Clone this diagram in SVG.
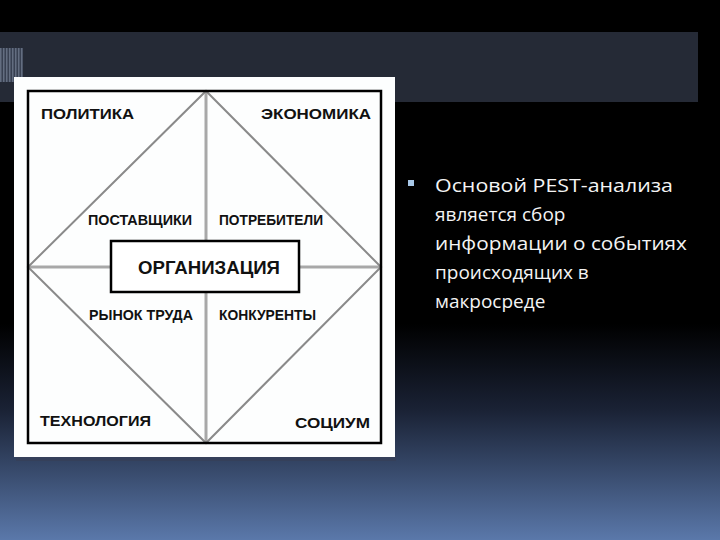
<svg xmlns="http://www.w3.org/2000/svg" width="720" height="540" viewBox="0 0 720 540">
<defs>
<linearGradient id="bg" x1="0" y1="0" x2="0" y2="1">
<stop offset="0" stop-color="#000"/>
<stop offset="0.6" stop-color="#000"/>
<stop offset="0.76" stop-color="#1a2235"/>
<stop offset="1" stop-color="#5a78aa"/>
</linearGradient>
<pattern id="vs" width="3" height="10" patternUnits="userSpaceOnUse">
<rect width="3" height="10" fill="#3a4254"/>
<rect width="1.5" height="10" fill="#6a7488"/>
</pattern>
</defs>
<style>
.lbl{font-family:"Liberation Sans",Arial,sans-serif;font-weight:bold;font-size:14.5px;fill:#111}
.big{font-family:"Liberation Sans",Arial,sans-serif;font-weight:bold;font-size:19px;fill:#111}
.gl{stroke:#a8a8a8;stroke-width:3;fill:none}
.dl{stroke:#8a8a8a;stroke-width:2;fill:none}
.txt{font-family:"Open Sans","Liberation Sans",sans-serif;font-size:19px;fill:#f4f4f4}
</style>
<rect width="720" height="540" fill="url(#bg)"/>
<rect x="0" y="32" width="698" height="70" fill="#252a36"/>
<rect x="0" y="48" width="23" height="34" fill="url(#vs)" opacity="0.9"/>
<rect x="16" y="455" width="380" height="6" fill="#35405a"/>
<rect x="14" y="77" width="381" height="380" fill="#fdfefe"/>
<g id="connectors">
<line class="gl" x1="206" y1="92" x2="206" y2="443"/>
<line class="gl" x1="28" y1="267" x2="381" y2="267"/>
<polygon class="dl" points="206,91 381,267 206,443 28,267"/>
</g>
<rect x="28" y="91" width="353" height="352" fill="none" stroke="#000" stroke-width="2.5"/>
<g id="organization">
<rect x="111" y="241" width="188" height="51" fill="#fff" stroke="#000" stroke-width="2.5"/>
<text class="big" x="138" y="274" textLength="142" lengthAdjust="spacingAndGlyphs">ОРГАНИЗАЦИЯ</text>
</g>
<g id="politics"><text class="lbl" x="41" y="119" textLength="93" lengthAdjust="spacingAndGlyphs">ПОЛИТИКА</text></g>
<g id="economics"><text class="lbl" x="261" y="119" textLength="110" lengthAdjust="spacingAndGlyphs">ЭКОНОМИКА</text></g>
<g id="suppliers"><text class="lbl" x="88" y="225" textLength="104" lengthAdjust="spacingAndGlyphs">ПОСТАВЩИКИ</text></g>
<g id="consumers"><text class="lbl" x="219" y="225" textLength="104" lengthAdjust="spacingAndGlyphs">ПОТРЕБИТЕЛИ</text></g>
<g id="labor"><text class="lbl" x="89" y="320" textLength="104" lengthAdjust="spacingAndGlyphs">РЫНОК ТРУДА</text></g>
<g id="competitors"><text class="lbl" x="219" y="320" textLength="97" lengthAdjust="spacingAndGlyphs">КОНКУРЕНТЫ</text></g>
<g id="technology"><text class="lbl" x="40" y="426" textLength="111" lengthAdjust="spacingAndGlyphs">ТЕХНОЛОГИЯ</text></g>
<g id="society"><text class="lbl" x="295" y="428" textLength="75" lengthAdjust="spacingAndGlyphs">СОЦИУМ</text></g>
<g id="bullet-text">
<rect x="408" y="180" width="6" height="6" fill="#a8c8e8"/>
<text class="txt" x="435" y="192" textLength="238" lengthAdjust="spacingAndGlyphs">Основой PEST-анализа</text>
<text class="txt" x="435" y="221">является сбор</text>
<text class="txt" x="435" y="250" textLength="252" lengthAdjust="spacingAndGlyphs">информации о событиях</text>
<text class="txt" x="435" y="279">происходящих в</text>
<text class="txt" x="435" y="308">макросреде</text>
</g>
</svg>
